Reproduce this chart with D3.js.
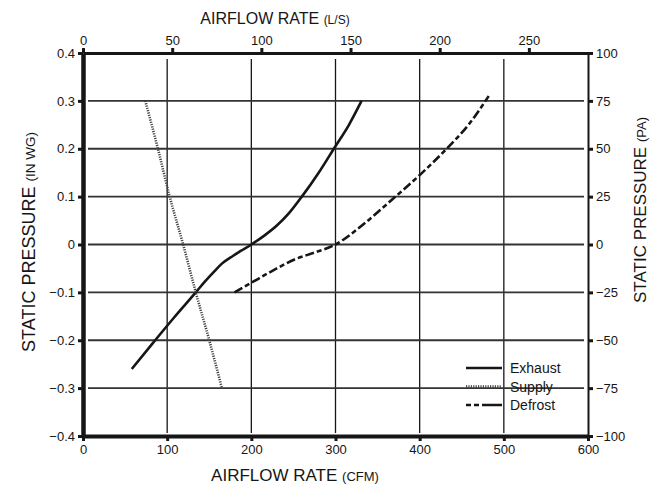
<!DOCTYPE html>
<html>
<head>
<meta charset="utf-8">
<script src="https://cdn.jsdelivr.net/npm/d3@7"></script>
<style>
  body { margin: 0; background: #fff; }
  svg { font-family: "Liberation Sans", Arial, sans-serif; }
</style>
</head>
<body>
<script>
// axis ticks
var cfmTicks = [0, 100, 200, 300, 400, 500, 600];
var lpsTicks = [0, 50, 100, 150, 200, 250];
var inwgTicks = [-0.4, -0.3, -0.2, -0.1, 0, 0.1, 0.2, 0.3, 0.4];
var paTicks = [-100, -75, -50, -25, 0, 25, 50, 75, 100];

// curves (CFM, in WG)
var exhaustCfm  = [58, 82, 108, 135, 145, 155, 165, 178, 188, 200, 215, 230, 245, 260, 280, 298, 316, 331];
var exhaustInwg = [-0.26, -0.208, -0.153, -0.098, -0.077, -0.058, -0.04, -0.024, -0.013, 0, 0.018, 0.039, 0.066, 0.1, 0.15, 0.2, 0.25, 0.3];

var supplyCfm  = [74, 89, 103, 119, 134, 150, 165];
var supplyInwg = [0.3, 0.2, 0.1, 0, -0.1, -0.2, -0.3];

var defrostCfm  = [180, 200, 225, 253, 275, 300, 335, 368, 400, 432, 458, 482];
var defrostInwg = [-0.1, -0.08, -0.055, -0.03, -0.017, 0, 0.045, 0.095, 0.145, 0.2, 0.25, 0.31];

var seriesNames = ["Exhaust", "Supply", "Defrost"];

var width = 657;
var height = 489;
var ink = "#161616";

var x = d3.scaleLinear().domain([0, 600]).range([83, 588]);
var xLps = d3.scaleLinear().domain([0, 600 / 2.119]).range([83, 588]);
var y = d3.scaleLinear().domain([-0.4, 0.4]).range([436, 53]);
var yPa = d3.scaleLinear().domain([-100, 100]).range([436, 53]);

var svg = d3.select("body").append("svg")
  .attr("width", width)
  .attr("height", height);

// grid
svg.append("g").selectAll("line")
  .data(cfmTicks.slice(1, -1))
  .enter().append("line")
  .attr("x1", function (d) { return x(d); })
  .attr("x2", function (d) { return x(d); })
  .attr("y1", y(0.4) + 6)
  .attr("y2", y(-0.4) - 3)
  .attr("stroke", ink)
  .attr("stroke-width", 1.3);

svg.append("g").selectAll("line")
  .data(inwgTicks.slice(1, -1))
  .enter().append("line")
  .attr("x1", x(0) + 5)
  .attr("x2", x(600) - 4)
  .attr("y1", function (d) { return y(d); })
  .attr("y2", function (d) { return y(d); })
  .attr("stroke", "#333")
  .attr("stroke-width", 1.8);

// axes
function styleAxis(g, domainWidth) {
  g.select(".domain").attr("stroke", ink).attr("stroke-width", domainWidth);
  g.selectAll(".tick line").attr("stroke", ink).attr("stroke-width", 3);
  g.selectAll(".tick text").attr("fill", ink).style("font-size", "13px");
}

svg.append("g")
  .attr("transform", "translate(0," + y(-0.4) + ")")
  .call(d3.axisBottom(x).tickValues(cfmTicks).tickSize(5).tickSizeOuter(0).tickPadding(4))
  .call(styleAxis, 4);

svg.append("g")
  .attr("transform", "translate(0," + y(0.4) + ")")
  .call(d3.axisTop(xLps).tickValues(lpsTicks).tickSize(5).tickSizeOuter(0).tickPadding(3))
  .call(styleAxis, 3);

svg.append("g")
  .attr("transform", "translate(" + x(0) + ",0)")
  .call(d3.axisLeft(y).tickValues(inwgTicks).tickSize(5).tickSizeOuter(0).tickPadding(3)
    .tickFormat(function (d) { return d === 0 ? "0" : d3.format(".1f")(d).replace("-", "\u2212"); }))
  .call(styleAxis, 4.5);

svg.append("g")
  .attr("transform", "translate(" + x(600) + ",0)")
  .call(d3.axisRight(yPa).tickValues(paTicks).tickSize(5).tickSizeOuter(0).tickPadding(3)
    .tickFormat(function (d) { return String(d).replace("-", "\u2212"); }))
  .call(styleAxis, 2);

// titles
function title(t, big, small, bigSize, smallSize) {
  t.attr("fill", ink).style("font-size", bigSize + "px").text(big);
  t.append("tspan").style("font-size", smallSize + "px").text(small);
}

svg.append("text")
  .attr("x", 275).attr("y", 24)
  .attr("text-anchor", "middle")
  .call(title, "AIRFLOW RATE ", "(L/S)", 16, 12);

svg.append("text")
  .attr("x", 295).attr("y", 481)
  .attr("text-anchor", "middle")
  .call(title, "AIRFLOW RATE ", "(CFM)", 17, 13);

svg.append("text")
  .attr("transform", "translate(35,242) rotate(-90)")
  .attr("text-anchor", "middle")
  .call(title, "STATIC PRESSURE ", "(IN WG)", 18, 13.5);

svg.append("text")
  .attr("transform", "translate(646,210) rotate(-90)")
  .attr("text-anchor", "middle")
  .call(title, "STATIC PRESSURE ", "(PA)", 17, 13);

// curves
var line = d3.line()
  .x(function (d) { return x(d[0]); })
  .y(function (d) { return y(d[1]); })
  .curve(d3.curveMonotoneX);

var series = [
  { name: seriesNames[0], pts: d3.zip(exhaustCfm, exhaustInwg), dash: null, legendDash: null, color: ink },
  { name: seriesNames[1], pts: d3.zip(supplyCfm, supplyInwg), dash: "1.2,1.2", legendDash: "1.2,1.2", color: "#444" },
  { name: seriesNames[2], pts: d3.zip(defrostCfm, defrostInwg), dash: "9,3,5,3", legendDash: "5,3,5,3,20", color: ink }
];

svg.append("g").selectAll("path")
  .data(series)
  .enter().append("path")
  .attr("d", function (d) { return line(d.pts); })
  .attr("fill", "none")
  .attr("stroke", function (d) { return d.color; })
  .attr("stroke-width", 2.6)
  .attr("stroke-dasharray", function (d) { return d.dash; });

// legend
var legend = svg.append("g").selectAll("g")
  .data(series)
  .enter().append("g")
  .attr("transform", function (d, i) { return "translate(466," + (368 + i * 18.5) + ")"; });

legend.append("line")
  .attr("x1", 0).attr("x2", 36)
  .attr("stroke", function (d) { return d.color; })
  .attr("stroke-width", 2.6)
  .attr("stroke-dasharray", function (d) { return d.legendDash; });

legend.append("text")
  .attr("x", 44).attr("y", 5)
  .attr("fill", ink)
  .style("font-size", "14px")
  .text(function (d) { return d.name; });
</script>
</body>
</html>
